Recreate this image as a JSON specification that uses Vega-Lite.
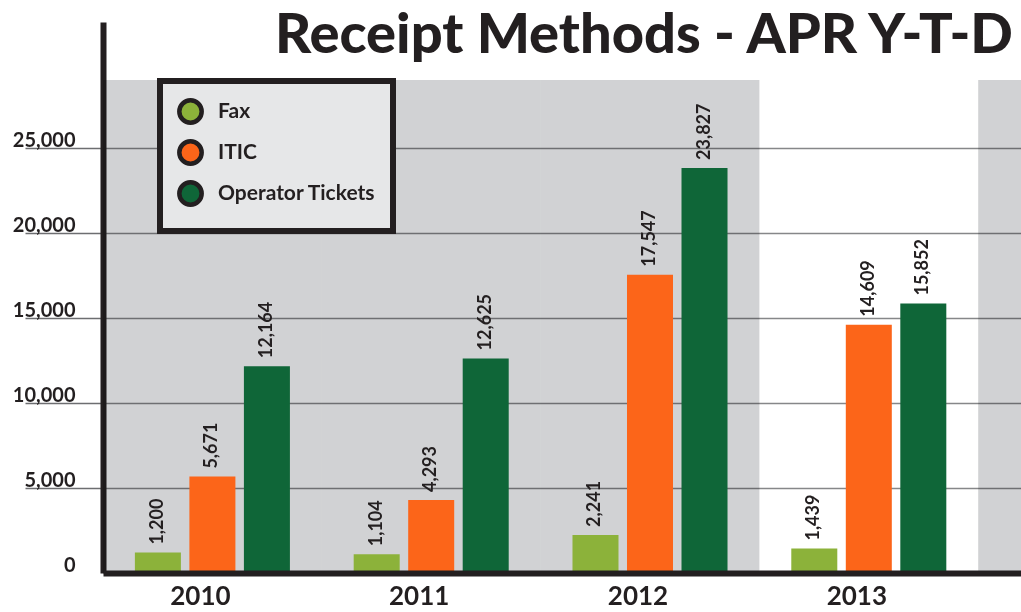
{
  "$schema": "https://vega.github.io/schema/vega-lite/v6.json",
  "width": 918,
  "height": 551,
  "autosize": {"type": "none"},
  "padding": {"left": 103, "top": 22, "right": 0, "bottom": 39},
  "background": "white",
  "title": {
    "text": "Receipt Methods - APR Y-T-D",
    "anchor": "end",
    "frame": "group",
    "font": "Lato",
    "fontSize": 56,
    "fontWeight": 900,
    "color": "#231f20",
    "baseline": "alphabetic",
    "offset": 0,
    "dy": 87,
    "dx": -8
  },
  "datasets": {
    "bands": [
      {"year": "2010"},
      {"year": "2011"},
      {"year": "2012"},
      {"year": "pad"}
    ],
    "receipts": [
      {"year": "2010", "method": "Fax", "value": 1200},
      {"year": "2010", "method": "ITIC", "value": 5671},
      {"year": "2010", "method": "Operator Tickets", "value": 12164},
      {"year": "2011", "method": "Fax", "value": 1104},
      {"year": "2011", "method": "ITIC", "value": 4293},
      {"year": "2011", "method": "Operator Tickets", "value": 12625},
      {"year": "2012", "method": "Fax", "value": 2241},
      {"year": "2012", "method": "ITIC", "value": 17547},
      {"year": "2012", "method": "Operator Tickets", "value": 23827},
      {"year": "2013", "method": "Fax", "value": 1439},
      {"year": "2013", "method": "ITIC", "value": 14609},
      {"year": "2013", "method": "Operator Tickets", "value": 15852}
    ]
  },
  "layer": [
    {
      "data": {"name": "bands"},
      "mark": {"type": "rect", "color": "#d1d2d4", "blend": "multiply"},
      "encoding": {
        "x": {"field": "year", "type": "nominal"},
        "y": {"datum": 29000},
        "y2": {"datum": 0}
      }
    },
    {
      "data": {"name": "receipts"},
      "mark": {"type": "bar"},
      "encoding": {
        "x": {
          "field": "year",
          "type": "nominal",
          "scale": {
            "domain": ["2010", "2011", "2012", "2013", "pad"],
            "range": [0, 1094],
            "paddingInner": 0,
            "paddingOuter": 0
          },
          "axis": {
            "title": null,
            "orient": "bottom",
            "domainWidth": 6,
            "domainColor": "#231f20",
            "ticks": false,
            "labelFont": "Lato",
            "labelFontSize": 26,
            "labelFontWeight": "bold",
            "labelColor": "#231f20",
            "labelPadding": 10,
            "labelOffset": -12,
            "labelAngle": 0,
            "labelAlign": "center",
            "labelBaseline": "top",
            "labelExpr": "datum.label == 'pad' ? '' : datum.label",
            "zindex": 1
          }
        },
        "xOffset": {
          "field": "method",
          "type": "nominal",
          "scale": {"paddingInner": 0.156, "paddingOuter": 0.585}
        },
        "y": {
          "field": "value",
          "type": "quantitative",
          "scale": {"domain": [0, 32412], "nice": false, "zero": true},
          "axis": {
            "title": null,
            "values": [0, 5000, 10000, 15000, 20000, 25000],
            "labelExpr": "format(datum.value, ',')",
            "domainWidth": 6,
            "domainColor": "#231f20",
            "tickSize": 78,
            "tickColor": "#6d6e71",
            "tickWidth": 1.5,
            "tickOpacity": {"condition": {"test": "datum.value === 0", "value": 0}, "value": 1},
            "grid": true,
            "gridColor": "#868789",
            "gridWidth": 1.5,
            "labelPadding": -50,
            "labelFont": "Lato",
            "labelFontSize": 20,
            "labelFontWeight": "bold",
            "labelColor": "#231f20",
            "labelAlign": "right",
            "labelBaseline": "alphabetic",
            "labelOffset": -2,
            "zindex": 0
          }
        },
        "color": {
          "field": "method",
          "type": "nominal",
          "scale": {
            "domain": ["Fax", "ITIC", "Operator Tickets"],
            "range": ["#8cb23a", "#fc6519", "#0f6638"]
          },
          "legend": {
            "title": null,
            "orient": "none",
            "legendX": 57,
            "legendY": 59,
            "fillColor": "#e6e7e8",
            "strokeColor": "#231f20",
            "padding": 17,
            "symbolType": "circle",
            "symbolSize": 500,
            "symbolStrokeColor": "#231f20",
            "symbolStrokeWidth": 4.5,
            "labelFont": "Lato",
            "labelFontSize": 21,
            "labelFontWeight": "bold",
            "labelColor": "#231f20",
            "labelOffset": 14,
            "rowPadding": 0
          }
        }
      }
    },
    {
      "data": {"name": "receipts"},
      "mark": {
        "type": "text",
        "angle": 270,
        "align": "left",
        "baseline": "middle",
        "dx": 8,
        "font": "Lato",
        "fontSize": 18,
        "fontWeight": "bold",
        "color": "#231f20"
      },
      "encoding": {
        "x": {"field": "year", "type": "nominal"},
        "xOffset": {"field": "method", "type": "nominal"},
        "y": {"field": "value", "type": "quantitative"},
        "text": {"field": "value", "type": "quantitative", "format": ","}
      }
    }
  ],
  "config": {
    "view": {"stroke": null},
    "legend": {"strokeWidth": 6}
  }
}
